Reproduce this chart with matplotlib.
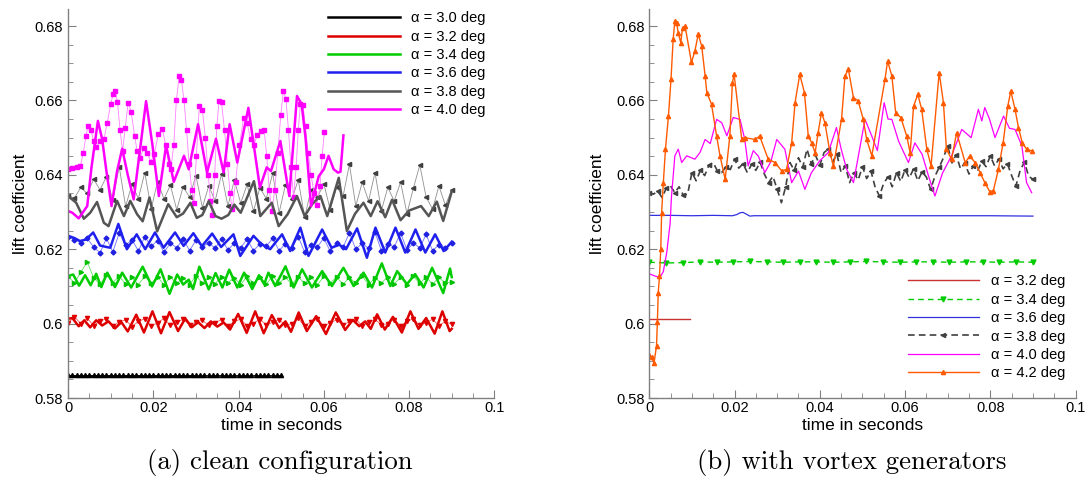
import numpy as np
import matplotlib
matplotlib.use("Agg")
import matplotlib.pyplot as plt
import matplotlib.ticker as tick

plt.rcParams['font.family'] = ['Liberation Sans', 'DejaVu Sans']

# ---------------- (a) clean configuration ----------------
# times in ms, lift coefficient in thousandths
blk_a_t = [0, 30]
blk_a_v = [585.9, 585.9]
blk_b_t = [0, 1, 2, 3, 4, 5, 6, 7, 8, 9, 10, 11, 12, 13, 14, 15, 16, 17, 18, 19, 20, 21, 22, 23, 24, 25,
           26, 27, 28, 29, 30, 31, 32, 33, 34, 35, 36, 37, 38, 39, 40, 41, 42, 43, 44, 45, 46, 47, 48, 49, 50]
blk_b_v = [586.1] * len(blk_b_t)

red_a_t = [0, 1.0, 2.5, 3.8, 5.2, 6.6, 8.0, 9.5, 11.0, 12.5, 14.0, 16.0, 17.8, 19.8, 21.8, 23.8, 25.8, 27.5,
           29.0, 30.5, 32.0, 33.5, 35.0, 36.5, 38.0, 39.9, 41.9, 43.9, 45.9, 47.8, 49.5, 51.0, 52.3, 54.1,
           56.0, 58.2, 60.5, 62.8, 65.0, 66.8, 68.3, 69.7, 71.0, 72.5, 74.3, 76.2, 78.3, 80.3, 82.2, 84.0,
           86.0, 87.8, 89.5, 90.0]
red_a_v = [601.3, 601.5, 599.3, 600.9, 599.0, 600.9, 599.5, 600.6, 598.7, 600.4, 597.9, 602.4, 597.6, 603.3,
           597.4, 603.1, 598.0, 601.4, 599.0, 600.4, 598.8, 600.6, 599.2, 600.3, 598.4, 602.6, 597.5, 603.3,
           597.4, 602.3, 598.8, 600.6, 597.8, 603.0, 598.0, 602.0, 597.2, 603.0, 598.3, 601.0, 599.3, 600.6,
           598.6, 602.5, 598.4, 601.8, 597.6, 603.3, 598.6, 601.5, 597.3, 603.3, 598.0, 598.6]

grn_a_t = [0, 1.2, 2.6, 4.0, 5.3, 6.6, 7.8, 9.2, 11.0, 12.7, 14.8, 17.5, 19.7, 21.7, 23.8, 25.6, 27.0, 28.3,
           29.3, 30.8, 33.0, 34.6, 36.2, 37.8, 39.7, 41.3, 43.2, 44.8, 46.0, 47.0, 48.6, 51.0, 52.9, 54.9,
           57.2, 59.6, 61.9, 64.6, 67.0, 69.3, 71.3, 73.6, 75.6, 77.2, 79.5, 81.4, 83.4, 85.4, 88.0, 89.6, 90.0]
grn_a_v = [612.8, 613.2, 610.2, 613.0, 610.3, 613.4, 609.8, 613.7, 609.8, 613.7, 609.7, 615.3, 610.0, 614.6,
           608.0, 613.2, 610.5, 611.8, 609.3, 615.3, 609.2, 613.6, 609.7, 614.5, 609.7, 613.7, 609.3, 613.0,
           610.6, 613.7, 610.1, 615.4, 609.7, 614.6, 609.7, 614.1, 610.1, 615.0, 610.1, 613.7, 609.7, 616.2,
           610.1, 614.1, 610.6, 613.3, 609.7, 615.0, 608.2, 614.8, 612.5]

blu_a_t = [0, 1.5, 2.8, 4.2, 5.9, 7.5, 9.0, 9.9, 11.8, 13.8, 16.1, 18.1, 20.4, 22.4, 25.1, 27.1, 29.4, 31.4,
           33.8, 35.9, 38.8, 40.4, 43.5, 45.2, 47.4, 50.2, 52.1, 54.5, 56.4, 59.6, 61.8, 63.6, 65.2, 67.8,
           70.1, 72.1, 74.4, 76.8, 79.1, 81.5, 83.8, 86.1, 88.1, 90.0]
blu_a_v = [623.6, 623.0, 622.2, 622.6, 624.5, 621.0, 620.6, 620.4, 626.8, 620.0, 624.0, 620.0, 624.5, 620.4,
           624.5, 620.9, 624.3, 620.8, 624.2, 620.6, 624.0, 618.2, 623.6, 621.5, 620.0, 624.0, 619.5, 625.8,
           618.2, 625.3, 620.4, 621.2, 620.0, 625.6, 617.7, 625.8, 619.1, 625.8, 619.1, 625.3, 619.1, 624.0,
           619.5, 622.0]

gry_a_t = [0, 1.9, 3.7, 5.2, 6.8, 8.4, 9.5, 11.5, 13.1, 14.6, 16.2, 17.5, 19.1, 20.9, 23.5, 25.5, 27.0, 28.7,
           30.2, 31.5, 33.0, 34.6, 36.0, 37.6, 39.0, 40.5, 43.6, 45.1, 46.5, 47.8, 49.4, 51.5, 53.7, 55.5,
           57.3, 59.2, 60.8, 63.5, 65.4, 67.3, 69.3, 71.0, 72.6, 74.4, 76.0, 78.0, 80.0, 82.8, 84.6, 86.5,
           88.0, 90.0]
gry_a_v = [634.3, 632.5, 628.2, 629.8, 632.7, 627.1, 626.2, 633.0, 628.9, 633.0, 629.4, 627.5, 633.9, 624.8,
           632.1, 628.6, 629.6, 632.5, 628.4, 629.2, 632.9, 628.9, 628.2, 629.2, 632.0, 629.8, 638.3, 628.9,
           630.8, 632.5, 626.2, 629.4, 634.3, 628.9, 632.2, 634.3, 628.9, 639.2, 624.9, 629.5, 632.5, 628.9,
           632.9, 628.6, 633.3, 627.8, 630.4, 631.6, 628.9, 632.8, 627.6, 635.5]

mag_a_t = [0.0, 1.0, 2.5, 4.5, 5.5, 7.0, 8.0, 9.0, 10.2, 11.5, 12.7, 14.0, 15.4, 16.8, 18.3, 19.8, 21.3,
           23.0, 24.8, 27.2, 28.3, 30.5, 32.6, 34.7, 36.5, 37.9, 39.7, 42.3, 45.0, 46.6, 47.6, 49.8, 51.9,
           53.7, 54.8, 55.7, 57.0, 58.8, 60.0, 61.1, 62.3, 63.3, 63.9, 64.6]
mag_a_v = [630.3, 629.8, 628.3, 631.6, 642.0, 654.5, 649.6, 641.0, 631.6, 641.0, 647.0, 640.0, 633.4, 646.0,
           659.8, 648.0, 634.3, 647.9, 638.1, 645.1, 641.5, 653.6, 640.6, 649.7, 640.6, 653.6, 643.3, 658.0,
           636.6, 642.0, 641.0, 649.1, 634.3, 661.2, 659.0, 650.0, 631.6, 639.6, 641.5, 645.1, 641.5, 640.6,
           640.8, 650.6]

mag_b_t = [0.0, 1.0, 2.0, 2.9, 3.6, 4.2, 4.7, 5.4, 6.0, 6.6, 7.4, 8.4, 9.2, 10.0, 10.6, 11.1, 11.6, 12.2,
           12.8, 13.4, 14.1, 14.8, 15.6, 16.2, 16.9, 17.8, 18.6, 19.4, 20.2, 21.2, 22.1, 22.9, 23.6, 24.1,
           24.8, 25.4, 26.1, 26.6, 27.2, 27.8, 28.4, 29.0, 29.5, 30.1, 30.8, 31.5, 32.2, 32.9, 33.4, 33.8,
           34.4, 34.9, 35.4, 36.0, 36.7, 37.4, 38.0, 38.5, 39.3, 40.2, 41.2, 42.0, 42.8, 43.6, 44.4, 45.2,
           46.0, 46.6, 47.2, 47.8, 48.5, 49.2, 49.9, 50.5, 51.1, 51.7, 52.3, 52.9, 53.5, 54.0, 54.5, 55.1,
           55.7, 56.3, 57.0, 57.7, 58.4, 59.1, 59.6, 60.1]
mag_b_v = [641.6, 641.8, 642.0, 642.4, 646.0, 650.5, 653.1, 652.0, 649.0, 647.4, 649.0, 649.5, 654.0, 659.0,
           661.8, 662.5, 659.5, 652.0, 646.4, 652.5, 659.4, 657.0, 650.5, 646.5, 644.6, 647.3, 646.0, 643.5,
           645.5, 651.0, 652.4, 648.0, 643.0, 641.5, 648.0, 660.0, 666.7, 665.5, 660.0, 652.0, 643.0, 636.0,
           632.5, 645.0, 658.5, 657.5, 650.0, 640.0, 633.0, 629.2, 640.0, 653.0, 659.8, 659.5, 652.0, 643.0,
           635.0, 630.7, 638.0, 648.0, 655.4, 654.0, 649.5, 648.0, 650.8, 651.8, 652.1, 645.0, 636.0, 630.3,
           636.0, 646.0, 656.0, 662.5, 660.5, 652.0, 642.0, 634.0, 642.0, 652.0, 659.0, 658.8, 653.0, 646.0,
           640.0, 635.0, 632.0, 637.0, 645.0, 651.5]

# second runs sampled every 1.5 ms
t_b = np.linspace(0, 90, 61)
red_b_v = [600.2, 601.8, 600.0, 601.5, 599.4, 600.8, 601.2, 599.3, 600.5, 601.0, 599.2, 600.6, 601.3, 599.4,
           600.2, 601.4, 599.5, 600.3, 601.2, 599.6, 600.4, 600.9, 599.5, 600.2, 601.1, 599.3, 600.6, 601.2,
           599.4, 600.0, 601.3, 599.5, 600.4, 601.0, 599.6, 600.0, 601.4, 599.3, 600.5, 601.2, 599.4, 600.2,
           601.0, 599.5, 600.6, 601.3, 599.3, 600.3, 601.2, 599.6, 600.0, 601.1, 599.4, 600.6, 601.3, 599.5,
           600.2, 601.2, 599.4, 600.6, 599.8]
grn_b_v = [612.6, 611.0, 613.8, 616.6, 612.3, 610.6, 613.0, 611.0, 612.8, 610.6, 612.4, 610.5, 612.7, 610.8,
           612.6, 610.4, 612.5, 610.8, 612.3, 610.5, 612.8, 610.9, 612.4, 610.7, 612.6, 611.0, 612.3, 610.5,
           612.7, 610.8, 612.6, 610.6, 612.8, 610.9, 612.4, 610.6, 612.5, 610.8, 612.6, 610.4, 612.7, 610.9,
           612.5, 610.6, 612.4, 610.8, 612.8, 610.5, 612.3, 610.9, 612.6, 610.7, 612.4, 610.5, 612.7, 610.8,
           612.5, 610.6, 612.4, 610.9, 611.2]
blu_b_v = [623.4, 622.6, 621.8, 622.9, 620.6, 619.0, 622.9, 619.3, 624.3, 621.0, 622.6, 619.5, 623.4, 620.8,
           622.3, 619.2, 621.6, 620.4, 622.8, 619.6, 622.4, 620.6, 621.8, 620.2, 622.8, 619.8, 621.6, 620.4,
           622.7, 619.6, 621.4, 620.8, 622.9, 619.6, 621.5, 620.2, 623.4, 619.2, 621.2, 620.6, 623.0, 619.4,
           621.8, 620.5, 624.4, 620.0, 621.6, 620.2, 624.6, 619.6, 621.4, 620.6, 624.4, 619.8, 621.6, 620.4,
           624.0, 619.6, 621.2, 620.4, 621.6]
gry_b_v = [634.3, 633.8, 636.6, 635.0, 638.8, 636.0, 639.5, 633.2, 642.2, 631.5, 637.5, 633.6, 640.6, 630.8,
           638.2, 633.5, 637.2, 630.6, 636.8, 634.0, 639.8, 631.2, 637.0, 633.0, 640.2, 631.6, 638.6, 632.4,
           637.4, 630.2, 636.5, 633.6, 640.4, 629.8, 637.3, 633.5, 638.6, 628.6, 636.0, 634.0, 637.6, 630.6,
           636.8, 634.2, 642.8, 631.6, 638.0, 633.0, 640.6, 630.4, 636.6, 633.0, 638.0, 629.6, 636.4, 642.6,
           634.0, 630.8, 637.0, 631.8, 636.0]

labels_a = ['\u03b1 = 3.0 deg', '\u03b1 = 3.2 deg', '\u03b1 = 3.4 deg',
            '\u03b1 = 3.6 deg', '\u03b1 = 3.8 deg', '\u03b1 = 4.0 deg']

# ---------------- (b) with vortex generators ----------------
red_v_t = [0, 9.5]
red_v_v = [601.3, 601.3]

grn_v_t = [0, 4.0, 8.0, 11.9, 15.8, 19.7, 23.6, 27.5, 31.4, 35.3, 39.2, 43.1, 47.0, 50.9, 54.8, 58.7, 62.6,
           66.5, 70.4, 74.3, 78.2, 82.1, 86.0, 90.0]
grn_v_v = [616.5, 616.3, 616.4, 616.6, 616.5, 616.6, 616.7, 616.6, 616.5, 616.6, 616.6, 616.5, 616.6, 616.7,
           616.6, 616.5, 616.6, 616.6, 616.5, 616.6, 616.6, 616.5, 616.6, 616.5]

blu_v_t = [0, 5, 10, 15, 19.5, 20.5, 21.3, 22.0, 22.8, 23.6, 24.5, 30, 40, 50, 60, 70, 80, 90]
blu_v_v = [629.1, 629.1, 629.0, 629.1, 629.0, 629.3, 629.8, 629.9, 629.4, 628.9, 629.0, 629.0, 629.0,
           629.0, 629.0, 629.0, 629.0, 628.9]

gry_v_t = np.linspace(0, 90, 91)
gry_v_v = [635.2, 634.8, 635.6, 633.9, 636.4, 637.0, 635.2, 636.8, 634.5, 634.8,
           640.6, 638.4, 641.2, 639.8, 642.6, 643.3, 641.0, 640.6, 642.2, 641.4,
           644.2, 641.8, 643.0, 640.6, 642.8, 641.2, 643.4, 640.2, 637.9, 639.6,
           636.1, 632.5, 636.8, 643.3, 641.2, 644.6, 642.0, 646.9, 643.0, 645.2,
           642.6, 646.0, 646.9, 643.4, 645.6, 640.6, 642.4, 637.9, 640.6, 638.6,
           642.2, 639.0, 641.0, 636.6, 634.3, 637.8, 639.4, 636.8, 640.6, 638.2,
           641.4, 639.2, 641.6, 638.4, 640.8, 639.4, 636.1, 639.6, 642.0, 644.6,
           647.8, 643.2, 645.4, 641.6, 643.2, 640.2, 642.4, 641.0, 643.6, 642.2,
           645.1, 642.4, 644.2, 641.6, 643.0, 639.8, 637.0, 641.2, 643.4, 639.6,
           638.8]

mag_v_t = [0, 1.3, 2.5, 3.3, 4.1, 4.9, 5.2, 6.0, 6.8, 7.6, 8.8, 10.7, 11.9, 13.1, 14.3, 15.8, 17.0, 18.2,
           19.7, 21.3, 22.4, 23.2, 24.4, 25.6, 27.1, 28.5, 29.9, 31.8, 33.4, 35.0, 36.5, 38.0, 40.0, 42.0,
           43.9, 45.0, 46.3, 47.9, 49.2, 50.6, 52.0, 53.5, 55.1, 56.0, 56.9, 58.5, 60.8, 62.3, 64.0, 65.5,
           67.0, 68.8, 70.9, 73.3, 75.5, 77.2, 78.0, 78.7, 79.8, 81.1, 83.1, 84.5, 85.8, 87.4, 88.5, 89.7]
mag_v_v = [613.4, 612.8, 612.4, 614.0, 619.1, 627.0, 634.0, 645.1, 646.9, 643.3, 645.1, 644.2, 646.0, 649.5,
           648.4, 654.9, 654.0, 650.5, 655.4, 654.9, 649.5, 642.4, 646.5, 645.0, 640.6, 643.5, 649.5, 646.9,
           637.9, 641.0, 636.1, 640.5, 643.8, 646.0, 652.7, 647.0, 641.5, 637.9, 646.0, 654.9, 651.0, 646.5,
           659.4, 655.0, 654.9, 649.0, 643.3, 648.6, 645.5, 639.7, 634.3, 640.5, 645.1, 652.2, 650.0, 657.6,
           654.5, 658.1, 655.0, 650.0, 655.8, 652.5, 652.2, 647.8, 637.9, 635.2]

org_v_t = [0, 0.6, 1.1, 1.7, 1.9, 2.1, 2.4, 2.7, 2.9, 3.3, 3.8, 4.5, 5.1, 5.6, 6.0, 6.4, 6.8, 7.4, 7.8, 8.4,
           9.9, 10.7, 11.5, 12.3, 13.1, 13.5, 14.6, 15.8, 16.6, 17.8, 18.9, 19.5, 19.9, 21.7, 22.4, 24.8,
           25.9, 27.9, 29.5, 31.1, 32.2, 33.4, 34.2, 35.3, 36.4, 37.3, 38.1, 38.9, 39.6, 40.4, 41.2, 42.4,
           43.2, 45.1, 45.9, 46.7, 47.9, 49.0, 50.2, 51.0, 52.2, 55.3, 55.9, 56.9, 57.8, 59.0, 60.4, 61.2,
           62.0, 63.0, 63.9, 65.1, 66.1, 68.0, 69.0, 69.7, 70.9, 72.1, 74.1, 75.2, 76.4, 77.6, 78.7, 79.9,
           80.7, 81.9, 83.0, 84.1, 84.8, 85.8, 86.6, 87.5, 88.5, 89.7]
org_v_v = [591.5, 590.9, 589.3, 594.0, 600.3, 608.3, 612.8, 620.0, 629.8, 637.9, 646.9, 655.8, 665.7, 676.4,
           681.4, 680.9, 678.2, 675.5, 679.6, 680.0, 670.2, 673.3, 677.8, 674.6, 666.6, 662.1, 659.0, 650.4,
           645.1, 638.8, 650.4, 664.8, 667.0, 649.5, 650.0, 649.5, 650.4, 644.2, 643.3, 641.0, 641.5, 648.6,
           659.4, 667.0, 662.1, 650.4, 648.6, 645.9, 651.3, 656.7, 654.0, 645.9, 642.4, 654.9, 666.6, 668.4,
           660.7, 659.9, 654.9, 649.5, 645.1, 665.7, 670.6, 666.6, 656.7, 655.4, 650.4, 645.9, 658.5, 661.6,
           657.6, 646.9, 642.4, 667.5, 659.4, 646.9, 644.2, 651.3, 643.3, 645.1, 643.3, 640.6, 637.9, 635.4,
           635.7, 641.5, 648.6, 658.5, 662.5, 657.6, 652.7, 648.6, 646.9, 646.4]

labels_b = ['\u03b1 = 3.2 deg', '\u03b1 = 3.4 deg', '\u03b1 = 3.6 deg',
            '\u03b1 = 3.8 deg', '\u03b1 = 4.0 deg', '\u03b1 = 4.2 deg']


def curve(ax, t, v, **kw):
    return ax.plot(np.asarray(t) * 1e-3, np.asarray(v) * 1e-3, **kw)[0]


def style_axes(ax, ylab_x):
    ax.set_xlim(0, 0.1)
    ax.set_ylim(0.58, 0.6845)
    ax.xaxis.set_major_locator(tick.MultipleLocator(0.02))
    ax.xaxis.set_minor_locator(tick.MultipleLocator(0.005))
    ax.yaxis.set_major_locator(tick.MultipleLocator(0.02))
    ax.yaxis.set_minor_locator(tick.MultipleLocator(0.005))
    fmt = tick.FuncFormatter(lambda x, p: '%g' % round(x, 4))
    ax.xaxis.set_major_formatter(fmt)
    ax.yaxis.set_major_formatter(fmt)
    for s in ['top', 'right']:
        ax.spines[s].set_visible(False)
    for s in ['left', 'bottom']:
        ax.spines[s].set_color('#808080')
        ax.spines[s].set_linewidth(1.0)
    ax.tick_params(which='both', direction='in', color='#808080', labelsize=10.5)
    ax.tick_params(which='major', length=6)
    ax.tick_params(which='minor', length=3.5)
    ax.tick_params(axis='x', pad=2)
    ax.set_xlabel('time in seconds', fontsize=12.5)
    ax.set_ylabel('lift coefficient', fontsize=12.5)
    ax.xaxis.set_label_coords(0.5, -0.052)
    ax.yaxis.set_label_coords(ylab_x, 0.5)


fig = plt.figure(figsize=(10.87, 5.0), dpi=100)
ax1 = fig.add_axes([0.0626, 0.204, 0.3922, 0.7774])
ax2 = fig.add_axes([0.5973, 0.204, 0.3922, 0.7774])

# left: thin marked line = second run, thick line = first run
ms = 3
curve(ax1, blk_b_t, blk_b_v, color='#000000', lw=0.6, marker='^', ms=ms)
curve(ax1, t_b, red_b_v, color='#f06060', lw=0.6, marker='v', ms=ms, mfc='#e00000', mec='#e00000')
curve(ax1, t_b, grn_b_v, color='#60e060', lw=0.6, marker='>', ms=ms, mfc='#00c000', mec='#00c000')
curve(ax1, t_b, blu_b_v, color='#7070ff', lw=0.6, marker='D', ms=2.5, mfc='#2020e0', mec='#2020e0')
curve(ax1, t_b, gry_b_v, color='#909090', lw=0.6, marker='<', ms=ms, mfc='#404040', mec='#404040')
curve(ax1, mag_b_t, mag_b_v, color='#ff80ff', lw=0.6, marker='s', ms=ms, mfc='#ff00ff', mec='#ff00ff')

h1 = []
h1.append(curve(ax1, blk_a_t, blk_a_v, color='#000000', lw=1.8, label=labels_a[0]))
h1.append(curve(ax1, red_a_t, red_a_v, color='#dd0000', lw=1.8, label=labels_a[1]))
h1.append(curve(ax1, grn_a_t, grn_a_v, color='#00cc00', lw=1.8, label=labels_a[2]))
h1.append(curve(ax1, blu_a_t, blu_a_v, color='#2020ee', lw=1.8, label=labels_a[3]))
h1.append(curve(ax1, gry_a_t, gry_a_v, color='#555555', lw=1.8, label=labels_a[4]))
h1.append(curve(ax1, mag_a_t, mag_a_v, color='#ff00ff', lw=1.8, label=labels_a[5]))
style_axes(ax1, -0.095)
ax1.legend(handles=h1, loc='upper left', bbox_to_anchor=(0.61, 0.995), frameon=False, fontsize=10.5,
           handlelength=4.9, handletextpad=0.8, labelspacing=0.3, borderpad=0, borderaxespad=0)

# right
h2 = []
h2.append(curve(ax2, red_v_t, red_v_v, color='#c83232', lw=1.0, label=labels_b[0]))
h2.append(curve(ax2, grn_v_t, grn_v_v, color='#00cc00', lw=1.0, ls=(0, (4, 3)), marker='v', ms=3.5,
                label=labels_b[1]))
h2.append(curve(ax2, blu_v_t, blu_v_v, color='#3030e0', lw=0.9, label=labels_b[2]))
h2.append(curve(ax2, gry_v_t, gry_v_v, color='#404040', lw=1.2, ls=(0, (4, 2.5)), marker='<', ms=3,
                markevery=2, label=labels_b[3]))
h2.append(curve(ax2, mag_v_t, mag_v_v, color='#ff00ff', lw=0.9, label=labels_b[4]))
h2.append(curve(ax2, org_v_t, org_v_v, color='#ff5a00', lw=1.0, marker='^', ms=3, label=labels_b[5]))
style_axes(ax2, -0.103)
ax2.legend(handles=h2, loc='upper left', bbox_to_anchor=(0.606, 0.318), frameon=False, fontsize=10.5,
           handlelength=4.9, handletextpad=0.8, labelspacing=0.3, borderpad=0, borderaxespad=0)

fig.text(0.2576, 0.076, '(a) clean configuration', family='cmr10', fontsize=19.3,
         ha='center', va='center')
fig.text(0.7838, 0.076, '(b) with vortex generators', family='cmr10', fontsize=19.3,
         ha='center', va='center')

fig.savefig('out.png', dpi=100)
